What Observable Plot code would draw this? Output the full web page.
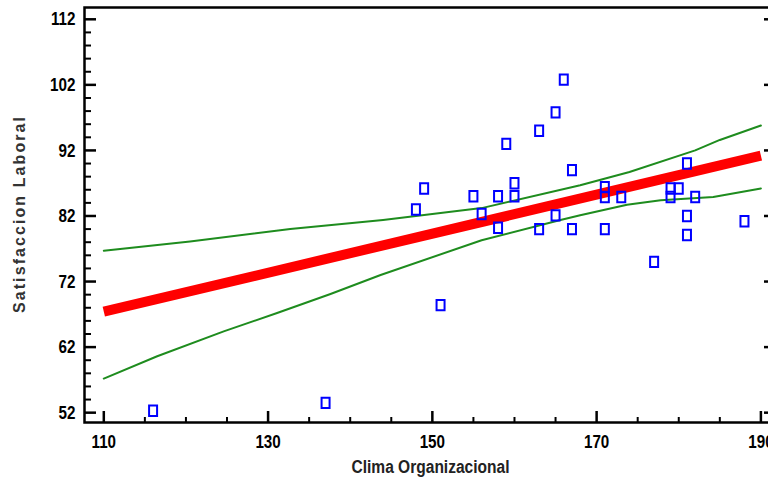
<!DOCTYPE html>
<html><head><meta charset="utf-8">
<script src="https://cdn.jsdelivr.net/npm/d3@7"></script>
<script src="https://cdn.jsdelivr.net/npm/@observablehq/plot@0.6"></script>
<style>html,body{margin:0;padding:0;background:#fff;overflow:hidden}</style>
</head><body><div id="chart"></div>
<script>
// Observed data (Clima Organizacional vs Satisfaccion Laboral)
const climaX = [116,137,148,149,151,155,156,158,158,159,160,160,163,163,165,165,166,167,167,171,171,173,171,181,179,180,179,182,181,181,177,188];
const satisY = [52.3,53.5,83,86.2,68.4,85,82.3,85,80.2,93,87,85,95,80,97.8,82.1,102.8,89,80,86.4,84.9,84.9,80,90,86.2,86.2,84.9,84.9,82,79.1,75,81.2];

// Fitted line
const fitX = [110, 190];
const fitY = [67.4, 91.2];

// Upper and lower limits
const upperX = [110, 120.5, 132.7, 144, 156, 168, 174, 182, 185, 190];
const upperY = [76.7, 78.1, 80.0, 81.4, 83.2, 86.7, 88.7, 92.0, 93.6, 95.8];
const lowerX = [110, 116.5, 124.6, 131.1, 137.6, 143.7, 156, 165.6, 168, 173.7, 177.8, 184.2, 190];
const lowerY = [57.2, 60.6, 64.4, 67.2, 70.1, 73.0, 78.3, 81.4, 82.1, 83.7, 84.4, 84.9, 86.2];

// Ticks
const xMajor = [110, 130, 150, 170, 190];
const xMinor = d3.range(110, 192, 5).filter(v => !xMajor.includes(v));
const yMajor = [52, 62, 72, 82, 92, 102, 112];
const yMinor = d3.range(52, 113, 2).filter(v => !yMajor.includes(v));

const xTitle = "Clima Organizacional";
const yTitle = "Satisfaccion Laboral";

const points = climaX.map((x, i) => ({x, y: satisY[i]}));
const fit = fitX.map((x, i) => ({x, y: fitY[i]}));
const upper = upperX.map((x, i) => ({x, y: upperY[i]}));
const lower = lowerX.map((x, i) => ({x, y: lowerY[i]}));

const W = 768, H = 483, mL = 84, mR = -8, mT = 7, mB = 61;
const pw = W - mL - mR, ph = H - mT - mB;
const rectSymbol = {draw(ctx) { ctx.rect(-4, -5.2, 8, 10.4); }};

const chart = Plot.plot({
  width: W, height: H,
  marginLeft: mL, marginRight: mR, marginTop: mT, marginBottom: mB,
  x: {domain: [107.65, 191.9]},
  y: {domain: [50.5, 113.8]},
  style: {fontFamily: "'Liberation Sans',Arial,sans-serif", fontSize: "18px", fontWeight: "bold", background: "white", color: "black"},
  marks: [
    Plot.axisX({ticks: xMajor, tickSize: 0, tickPadding: 12, tickFormat: d => String(d), label: null, fontWeight: "bold", fontSize: 19}),
    Plot.axisY({ticks: yMajor, tickSize: 0, tickPadding: 9, tickFormat: d => String(d), label: null, fontWeight: "bold", fontSize: 19}),
    Plot.tickY(yMajor, {y: d => d, insetRight: pw - 12, stroke: "black", strokeWidth: 2.5}),
    Plot.tickY(yMinor, {y: d => d, insetRight: pw - 7, stroke: "black", strokeWidth: 2}),
    Plot.tickY(yMajor, {y: d => d, insetLeft: pw - 12, stroke: "black", strokeWidth: 2.5}),
    Plot.tickX(xMajor, {x: d => d, insetTop: ph - 11, stroke: "black", strokeWidth: 2.5}),
    Plot.tickX(xMinor, {x: d => d, insetTop: ph - 5, stroke: "black", strokeWidth: 2}),
    Plot.frame({stroke: "black", strokeWidth: 2.5}),
    Plot.line(upper, {x: "x", y: "y", stroke: "#1e8c1e", strokeWidth: 2}),
    Plot.line(lower, {x: "x", y: "y", stroke: "#1e8c1e", strokeWidth: 2}),
    Plot.line(fit, {x: "x", y: "y", stroke: "#ff0000", strokeWidth: 10, strokeLinecap: "butt"}),
    Plot.dot(points, {x: "x", y: "y", symbol: rectSymbol, stroke: "#0000ff", strokeWidth: 2, fill: "none"}),
    Plot.text([yTitle], {frameAnchor: "left", dx: -65, rotate: -90, textAnchor: "middle", lineAnchor: "middle", text: d => d, fontFamily: "'Liberation Sans',Arial,sans-serif", fontSize: 16, fontWeight: "bold", fill: "#333"}),
    Plot.text([xTitle], {frameAnchor: "bottom", dy: 45, textAnchor: "middle", lineAnchor: "middle", text: d => d, fontSize: 18, fontWeight: "bold", fill: "#222"})
  ]
});
document.getElementById("chart").appendChild(chart);

// Condense text to mimic the narrow face of the original
const svg = d3.select(chart);
function squeeze(sel, ratio) {
  sel.each(function () {
    const L = this.getComputedTextLength();
    this.setAttribute("textLength", (L * ratio).toFixed(1));
    this.setAttribute("lengthAdjust", "spacingAndGlyphs");
  });
}
squeeze(svg.selectAll('g[aria-label="x-axis tick label"] text'), 0.8);
squeeze(svg.selectAll('g[aria-label="y-axis tick label"] text'), 0.8);
const titles = svg.selectAll('g[aria-label="text"] text').nodes();
if (titles[0]) { titles[0].setAttribute("textLength", "196"); titles[0].setAttribute("lengthAdjust", "spacing"); }
if (titles[1]) { titles[1].setAttribute("textLength", "158"); titles[1].setAttribute("lengthAdjust", "spacingAndGlyphs"); }
</script>
</body></html>
